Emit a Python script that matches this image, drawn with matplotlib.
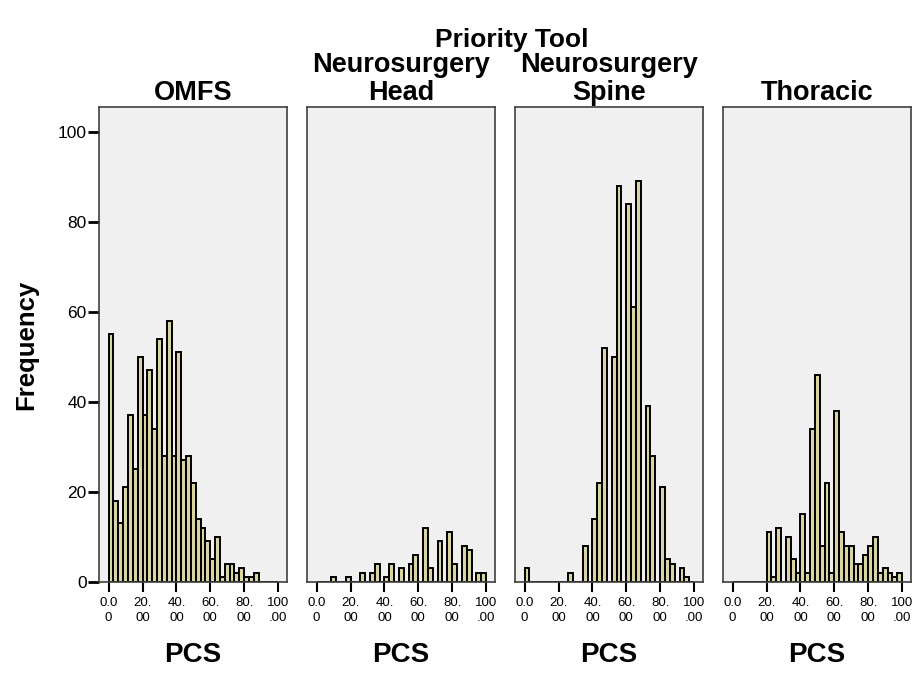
import numpy as np
import matplotlib
matplotlib.use("Agg")
import matplotlib.pyplot as plt

plt.rcParams['font.family'] = ['Liberation Sans', 'DejaVu Sans']

# PCS histograms per priority tool, 35 equal bins over 0-100
groups = ["OMFS", "Neurosurgery\nHead", "Neurosurgery\nSpine", "Thoracic"]
omfs = [55, 18, 13, 21, 37, 25, 50, 37, 47, 34, 54, 28, 58, 28, 51, 27, 28, 22,
        14, 12, 9, 5, 10, 1, 4, 4, 2, 3, 1, 1, 2, 0, 0, 0, 0]
neuro_head = [0, 0, 0, 1, 0, 0, 1, 0, 0, 2, 0, 2, 4, 0, 1, 4, 0, 3, 0, 4, 6, 0,
              12, 3, 0, 9, 0, 11, 4, 0, 8, 7, 0, 2, 2]
neuro_spine = [3, 0, 0, 0, 0, 0, 0, 0, 0, 2, 0, 0, 8, 0, 14, 22, 52, 0, 50, 88, 0,
               84, 61, 89, 0, 39, 28, 0, 21, 5, 4, 0, 3, 1, 0]
thoracic = [0, 0, 0, 0, 0, 0, 0, 11, 1, 12, 0, 10, 5, 2, 15, 2, 34, 46, 8, 22, 2,
            38, 11, 8, 8, 4, 4, 6, 8, 10, 2, 3, 2, 1, 2]
counts = [omfs, neuro_head, neuro_spine, thoracic]

xticks = [0, 20, 40, 60, 80, 100]
xtick_labels = ["0.0\n0", "20.\n00", "40.\n00", "60.\n00", "80.\n00", "100\n.00"]
yticks = [0, 20, 40, 60, 80, 100]

edges = np.linspace(0, 100, 36)
bin_w = edges[1] - edges[0]

W, H = 916, 673
fig = plt.figure(figsize=(W / 100, H / 100), dpi=100)

lefts = [99, 307, 515, 723]
pw = 188
top_px, bot_px = 107, 582

for i, (name, c) in enumerate(zip(groups, counts)):
    ax = fig.add_axes([lefts[i] / W, 1 - bot_px / H, pw / W, (bot_px - top_px) / H])
    ax.set_facecolor("#f0f0f0")
    ax.bar(edges[:-1], c, width=bin_w, align="edge", color="#d8d4a4",
           edgecolor="black", linewidth=1.4, zorder=2)
    ax.set_xlim(-5.7, 105.3)
    ax.set_ylim(0, 105.5)
    for s in ax.spines.values():
        s.set_color("#404040")
        s.set_linewidth(1.2)
    ax.set_xticks(xticks)
    ax.set_xticklabels(xtick_labels, fontsize=9.5, linespacing=1.3)
    ax.tick_params(axis="x", length=7, width=1.5, pad=4, color="black")
    if i == 0:
        ax.set_yticks(yticks)
        ax.tick_params(axis="y", length=8, width=2, pad=1, labelsize=12.5)
        ax.set_ylabel("Frequency", fontsize=18.5, fontweight="bold", labelpad=14)
    else:
        ax.set_yticks([])
    ax.set_xlabel("PCS", fontsize=20, fontweight="bold", labelpad=13)
    ax.set_title(name, fontsize=19.5, fontweight="bold", pad=5, linespacing=1.1)

fig.text(512 / W, 1 - 40 / H, "Priority Tool", ha="center", va="center",
         fontsize=19, fontweight="bold")

fig.savefig("out.png", dpi=100)
